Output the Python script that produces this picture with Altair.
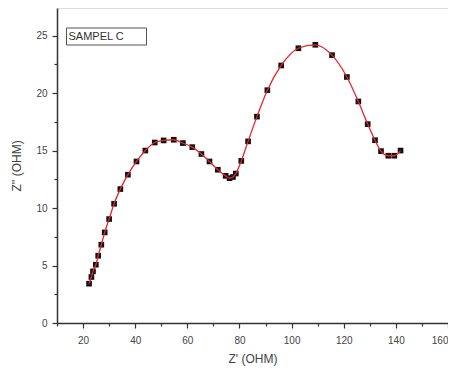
import altair as alt
import pandas as pd

z_real = [22.3, 23.2, 23.8, 24.9, 25.8, 27.0, 28.3, 30.0, 31.9, 34.3, 37.2, 40.5,
          43.9, 47.5, 50.9, 54.8, 58.3, 61.9, 65.4, 68.5, 71.7, 74.7, 76.2, 77.5,
          78.6, 80.7, 83.3, 86.7, 90.7, 96.0, 102.6, 109.1, 115.5, 121.2, 125.6,
          129.2, 132.0, 134.3, 137.1, 139.4, 141.8]
z_imag = [3.42, 4.0, 4.49, 5.07, 5.85, 6.81, 7.88, 9.04, 10.37, 11.65, 12.9, 14.05,
          15.0, 15.7, 15.88, 15.94, 15.65, 15.3, 14.7, 14.05, 13.33, 12.8, 12.6, 12.7,
          13.0, 14.1, 15.8, 17.95, 20.25, 22.4, 23.9, 24.2, 23.3, 21.4, 19.27,
          17.3, 15.9, 14.95, 14.55, 14.55, 15.0]

x_major = [20, 40, 60, 80, 100, 120, 140, 160]
x_minor = [10, 30, 50, 70, 90, 110, 130, 150]
y_major = [0, 5, 10, 15, 20, 25]
y_minor = [2.5, 7.5, 12.5, 17.5, 22.5]
legend_text = "SAMPEL C"

df = pd.DataFrame({"x": z_real, "y": z_imag})

FONT = "Liberation Sans"
FRAME = "#333333"
TXT = "#444444"

xs = alt.Scale(domain=[10, 160], nice=False, zero=False)
ys = alt.Scale(domain=[0, 27.4], nice=False, zero=False)

x_axis = alt.Axis(
    title="Z' (OHM)", values=x_major, orient="bottom", labelOverlap=False,
    tickSize=5, grid=False, domainColor=FRAME, domainWidth=1.5, tickColor=FRAME, tickWidth=1.2,
    labelFont=FONT, labelFontSize=10, labelColor=TXT, labelPadding=7, labelFlush=True,
    titleFont=FONT, titleFontSize=12, titleFontWeight="normal", titleColor=TXT,
    titlePadding=8,
)
y_axis = alt.Axis(
    title="Z'' (OHM)", values=y_major, orient="left", labelOverlap=False,
    tickSize=5, grid=False, domainColor=FRAME, domainWidth=1.5, tickColor=FRAME, tickWidth=1.2,
    labelFont=FONT, labelFontSize=10, labelColor=TXT, labelPadding=5, labelFlush=False,
    titleFont=FONT, titleFontSize=12, titleFontWeight="normal", titleColor=TXT,
    titlePadding=12,
)
x_axis_minor = alt.Axis(
    title=None, values=x_minor, orient="bottom", labels=False, domain=False,
    tickSize=3, grid=False, tickColor=FRAME, tickWidth=1.2,
)
y_axis_minor = alt.Axis(
    title=None, values=y_minor, orient="left", labels=False, domain=False,
    tickSize=3, grid=False, tickColor=FRAME, tickWidth=1.2,
)

base = alt.Chart(df)

points = base.mark_point(shape="square", filled=True, size=32, color="#111111", opacity=1).encode(
    x=alt.X("x:Q", scale=xs, axis=x_axis),
    y=alt.Y("y:Q", scale=ys, axis=y_axis),
)
line = base.mark_line(color="#e3262d", strokeWidth=1.3, interpolate="monotone").encode(
    x=alt.X("x:Q", scale=xs, axis=x_axis_minor),
    y=alt.Y("y:Q", scale=ys, axis=y_axis_minor),
)

box = alt.Chart(pd.DataFrame({"t": [legend_text]})).mark_rect(
    fill="white", stroke="#555555", strokeWidth=1
).encode(x=alt.value(9.5), x2=alt.value(89.5), y=alt.value(20), y2=alt.value(37))

label = alt.Chart(pd.DataFrame({"t": [legend_text]})).mark_text(
    align="left", baseline="middle", font=FONT, fontSize=11, color="#333333"
).encode(x=alt.value(11.5), y=alt.value(28.5), text="t:N")

chart = alt.layer(points, line, box, label).resolve_axis(
    x="independent", y="independent"
).properties(
    width=391, height=315,
    autosize=alt.AutoSizeParams(type="none"),
    padding={"left": 49, "top": 0, "right": 0, "bottom": 45},
).configure_view(stroke=FRAME, strokeWidth=1.5).configure(background="white")

chart.save("out.html", embed_options={"renderer": "svg", "actions": False})
